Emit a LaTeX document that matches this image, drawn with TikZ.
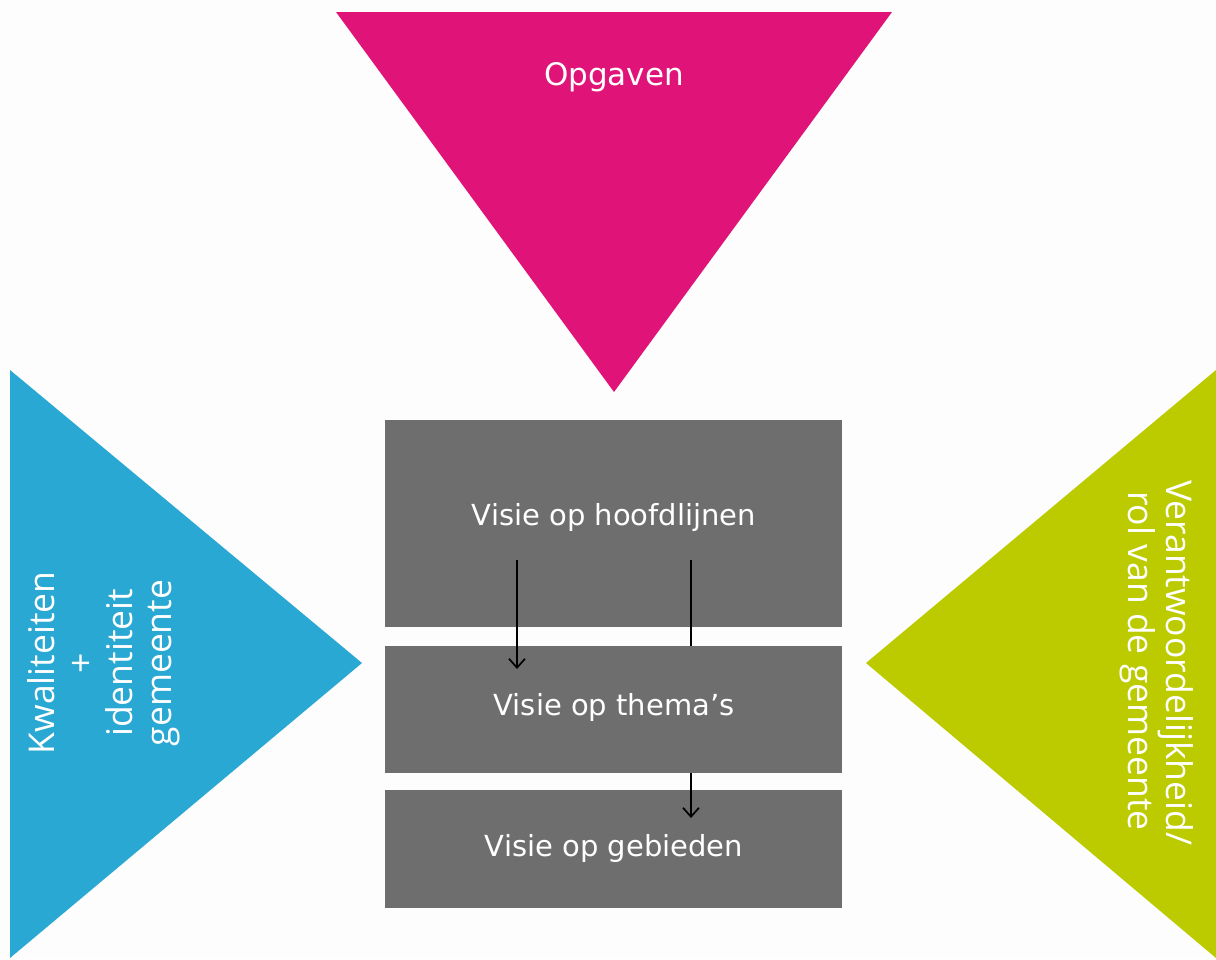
\documentclass[tikz,border=0pt]{standalone}
\usepackage{fontspec}
\setmainfont{DejaVu Sans}
\newfontfamily\sidefont{Open Sans}
\usetikzlibrary{arrows.meta}
\definecolor{cmag}{RGB}{224,20,120}
\definecolor{cblue}{RGB}{41,168,211}
\definecolor{cgreen}{RGB}{188,203,0}
\definecolor{cgrey}{RGB}{110,110,110}
\definecolor{cbg}{RGB}{253,253,253}
\tikzset{
  boxnode/.style={fill=cgrey, draw=none, minimum width=457pt, inner sep=0pt, anchor=north west},
  boxtext/.style={text=white, font=\fontsize{29}{34}\selectfont, inner sep=0pt, anchor=base},
  sidetext/.style={text=white, font=\sidefont\fontsize{35.5}{39}\selectfont, inner sep=0pt},
  flow/.style={black, line width=1.7pt},
  flowarrow/.style={flow, -{Straight Barb[length=9pt, width=16pt, line width=1.7pt]}}
}
\begin{document}
\begin{tikzpicture}[x=1pt, y=-1pt]
\useasboundingbox (0,0) rectangle (1216,959);
\fill[cbg] (0,0) rectangle (1216,959);
% triangles
\fill[cmag] (336,12) -- (892,12) -- (614,392) -- cycle;
\fill[cblue] (10,370) -- (362,663) -- (10,958) -- cycle;
\fill[cgreen] (1216,370) -- (866,663) -- (1216,958) -- cycle;
% boxes
\node[boxnode, minimum height=207pt] (box1) at (385,420) {};
\node[boxnode, minimum height=127pt] (box2) at (385,646) {};
\node[boxnode, minimum height=118pt] (box3) at (385,790) {};
% texts
\node[boxtext, font=\fontsize{31}{36}\selectfont] (opg) at (614,85) {Opgaven};
\node[boxtext] (t1) at (614,525) {Visie op hoofdlijnen};
\node[boxtext] (t2) at (614,715) {Visie op thema’s};
\node[boxtext] (t3) at (614,856) {Visie op gebieden};
\node[sidetext, rotate=90, align=center] (left) at (104,663) {Kwaliteiten\\+\\identiteit\\gemeente};
\node[sidetext, rotate=-90, anchor=base west] (right1) at (1166,480) {Verantwoordelijkheid/};
\node[sidetext, rotate=-90, anchor=base west] (right2) at (1128,491) {rol van de gemeente};
% connectors
\coordinate (a1s) at (517,560);
\coordinate (a1e) at (517,669);
\coordinate (a2s) at (691,560);
\coordinate (a3e) at (691,818);
\draw[flowarrow] (a1s) -- (a1e);
\draw[flow] (a2s) -- (a2s |- box2.north);
\draw[flowarrow] (a3e |- box2.south) -- (a3e);
\end{tikzpicture}
\end{document}
